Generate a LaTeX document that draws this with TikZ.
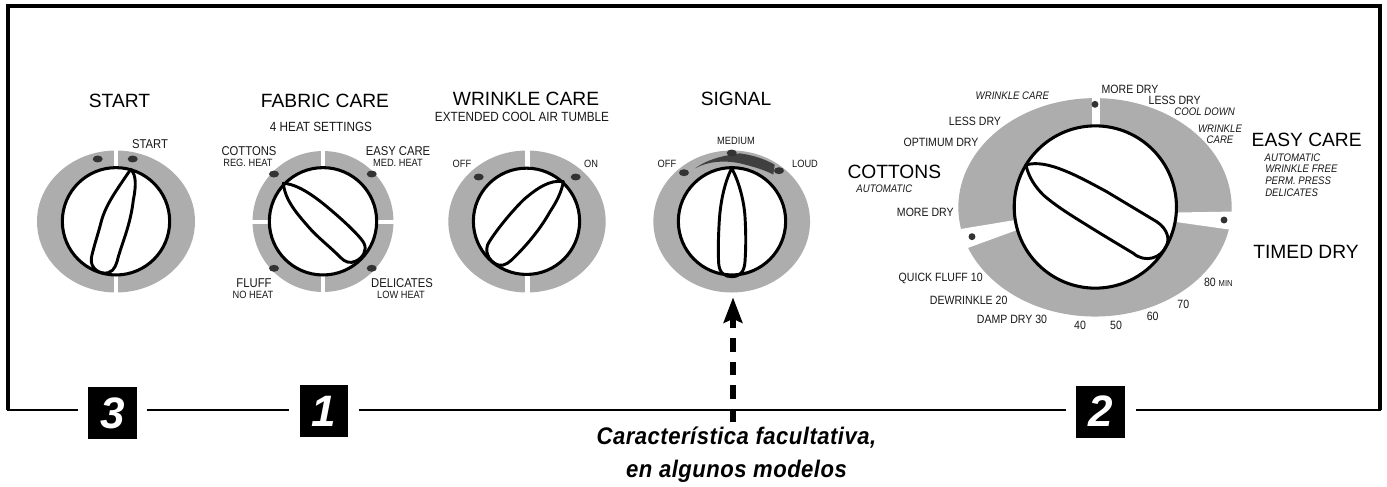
\documentclass[tikz,border=0pt]{standalone}
\usepackage{fontspec}
\setmainfont{Liberation Sans}
\newfontfamily\nar[FakeStretch=0.88]{Liberation Sans}
\newfontfamily\capf[FakeStretch=0.92,LetterSpace=2]{Liberation Sans}
\usetikzlibrary{shapes.geometric,arrows.meta}
\definecolor{halft}{gray}{0.68}
\definecolor{dotc}{gray}{0.2}
\tikzset{
 ring/.style={ellipse,fill=halft,inner sep=0,outer sep=0},
 knob/.style={circle,draw=black,line width=2.3pt,fill=white,inner sep=0,outer sep=0},
 ptr/.style={draw=black,line width=2.2pt,line join=round},
 gapw/.style={fill=white,draw=none},
 hole/.style={ellipse,fill=dotc,inner sep=0,minimum width=7.5pt,minimum height=5.2pt},
 bighole/.style={circle,fill=dotc,inner sep=0,minimum size=5.2pt},
 title/.style={inner sep=0,font=\fontsize{14.4}{15}\selectfont},
 lab/.style={inner sep=0,font=\nar\fontsize{9.6}{10}\selectfont,text=black!90},
 sublabel/.style={inner sep=0,font=\nar\fontsize{10}{11}\selectfont,text=black!90},
 sublab/.style={inner sep=0,font=\nar\fontsize{7.9}{9}\selectfont,text=black!90},
 biglab/.style={inner sep=0,font=\nar\fontsize{9}{10}\selectfont,text=black!90},
 itlab/.style={inner sep=0,font=\nar\itshape\fontsize{8.2}{9}\selectfont,text=black!90},
 badge/.style={fill=black,text=white,inner sep=0,minimum width=36.5pt,minimum height=39pt,font=\bfseries\itshape\fontsize{33}{33}\selectfont},
 frameU/.style={draw=black,line width=2.4pt,line join=miter},
 frameB/.style={draw=black,line width=1.8pt,shorten <=7.5pt,shorten >=7.5pt},
}
\begin{document}
\begin{tikzpicture}[x=0.75pt,y=-0.75pt]
\useasboundingbox (0,0) rectangle (1387,486);
\fill[white] (0,0) rectangle (1387,486);

% frame and badges
\coordinate (fbl) at (8,410);
\coordinate (ftl) at (8,6);
\coordinate (ftr) at (1380,6);
\coordinate (fbr) at (1380,410);
\node[badge] (b3) at (112.5,413) {3};
\node[badge] (b1) at (324,411) {1};
\node[badge] (b2) at (1100.5,411.5) {2};
\draw[frameU] (fbl) -- (ftl) -- (ftr) -- (fbr);
\draw[draw=black,line width=1.8pt,shorten >=7.5pt] (7,410) -- (b3.west |- fbl);
\draw[frameB] (b3.east |- fbl) -- (b1.west |- fbl);
\draw[frameB] (b1.east |- fbl) -- (b2.west |- fbl);
\draw[draw=black,line width=1.8pt,shorten <=8.5pt] (b2.east |- fbl) -- (1381,410);

% START dial
\node[ring,minimum width=118.5pt,minimum height=106.5pt] (r1) at (116,221.5) {};
\fill[gapw] (113.7,140) rectangle (118.2,300);
\node[hole] (h11) at (97.7,159) {};
\node[hole] (h12) at (132.7,159) {};
\node[knob,minimum size=80.5pt] (k1) at (116,221.3) {};
\begin{scope}[shift={(0,60)},scale=1/3]
\draw[ptr] (392,328) .. controls (350,390) and (320,430) .. (305,480) .. controls (295,520) and (278,570) .. (274,595) .. controls (270,625) and (300,645) .. (325,638) .. controls (345,632) and (350,610) .. (355,590) .. controls (370,540) and (392,490) .. (400,420) .. controls (408,380) and (410,345) .. (392,328) -- cycle;
\end{scope}
\node[title] (t1) at (119.5,100.7) {START};
\node[lab] (l1) at (150,144) {START};

% FABRIC CARE dial
\node[ring,minimum width=105.7pt,minimum height=105.7pt] (r2) at (323,221.5) {};
\fill[gapw] (321,140) rectangle (325.2,300);
\fill[gapw] (245,219.7) rectangle (400,224);
\node[hole] (h21) at (274,174) {};
\node[hole] (h22) at (371.7,174) {};
\node[hole] (h23) at (274,268.3) {};
\node[hole] (h24) at (371.7,268.3) {};
\node[knob,minimum size=80.5pt] (k2) at (323,221.3) {};
\begin{scope}[shift={(0,60)},scale=1/3]
\draw[ptr] (850,370) .. controls (905,372) and (975,435) .. (1010,465) .. controls (1050,500) and (1085,535) .. (1092,550) .. controls (1102,570) and (1090,592) .. (1068,603) .. controls (1050,612) and (1035,606) .. (1022,593) .. controls (990,560) and (950,530) .. (925,500) .. controls (890,460) and (855,420) .. (850,370) -- cycle;
\end{scope}
\node[title] (t2) at (325,100.7) {FABRIC CARE};
\node[sublabel] (t2b) at (321,127) {4 HEAT SETTINGS};
\node[lab] (l21) at (249,151) {COTTONS};
\node[sublab] (l22) at (248,163) {REG. HEAT};
\node[lab] (l23) at (398,151) {EASY CARE};
\node[sublab] (l24) at (398,163) {MED. HEAT};
\node[lab] (l25) at (254,283) {FLUFF};
\node[sublab] (l26) at (253,295) {NO HEAT};
\node[lab] (l27) at (402,283) {DELICATES};
\node[sublab] (l28) at (401,295) {LOW HEAT};

% WRINKLE CARE dial
\node[ring,minimum width=118pt,minimum height=106.5pt] (r3) at (527,221.5) {};
\fill[gapw] (525,140) rectangle (529.5,300);
\node[hole] (h31) at (478.7,177) {};
\node[hole] (h32) at (575.7,177) {};
\node[knob,minimum size=79.7pt] (k3) at (526.5,221.3) {};
\begin{scope}[shift={(430,60)},scale=1/3]
\draw[ptr] (400,365) .. controls (360,358) and (320,385) .. (280,420) .. controls (240,460) and (200,510) .. (178,545) .. controls (160,570) and (175,605) .. (205,615) .. controls (225,620) and (240,605) .. (255,590) .. controls (300,545) and (335,500) .. (360,455) .. controls (380,425) and (395,395) .. (400,365) -- cycle;
\end{scope}
\node[title] (t3) at (526,99) {WRINKLE CARE};
\node[sublabel] (t3b) at (522,117) {EXTENDED COOL AIR TUMBLE};
\node[sublab] (l31) at (462,164) {OFF};
\node[sublab] (l32) at (591,164) {ON};

% SIGNAL dial
\node[ring,minimum width=117.5pt,minimum height=106.5pt] (r4) at (731.7,221.5) {};
\begin{scope}[shift={(640,140)},scale=1/3]
\fill[black!75] (165,85) .. controls (200,60) and (240,48) .. (300,40) .. controls (340,46) and (372,56) .. (404,74) -- (400,104) .. controls (375,90) and (340,80) .. (300,70) .. controls (250,60) and (205,64) .. (165,85) -- cycle;
\end{scope}
\node[hole] (h41) at (684,172.7) {};
\node[hole] (h42) at (731.7,153) {};
\node[hole] (h43) at (779,170.7) {};
\node[knob,minimum size=80.5pt] (k4) at (732,221.3) {};
\begin{scope}[shift={(430,60)},scale=1/3]
\draw[ptr] (905,325) .. controls (885,365) and (872,420) .. (868,480) .. controls (865,530) and (864,570) .. (866,610) .. controls (868,640) and (885,650) .. (905,650) .. controls (930,650) and (943,635) .. (945,605) .. controls (948,560) and (948,520) .. (945,470) .. controls (942,420) and (925,360) .. (905,325) -- cycle;
\end{scope}
\node[title] (t4) at (736,99) {SIGNAL};
\node[sublab] (l41) at (667,164) {OFF};
\node[sublab] (l42) at (736,141) {MEDIUM};
\node[sublab] (l43) at (805,164) {LOUD};

% arrow and caption
\coordinate (afoot) at (733,422);
\draw[line width=3.8pt,draw=black,dash pattern=on 10pt off 7.6pt,shorten >=3.7pt,-{Stealth[length=19pt,width=14pt,inset=3pt]}] (afoot) -- (afoot |- r4.south);
\node[inner sep=0,align=center,font=\capf\bfseries\itshape\fontsize{18}{24.75}\selectfont] (cap) at (736.5,455) {Característica facultativa,\\en algunos modelos};

% big dial
\begin{scope}[shift={(880,70)},scale=1/3]
\node[ring,minimum width=205pt,minimum height=163.8pt] (r5) at (645,412) {};
\fill[gapw] (635,60) rectangle (660,200);
\fill[gapw] (860,428) -- (1100,424) -- (1100,486) -- (860,452) -- cycle;
\fill[gapw] (430,446) -- (200,484) -- (200,557) -- (430,473) -- cycle;
\node[bighole] (h51) at (645,103) {};
\node[bighole] (h52) at (1032,450) {};
\node[bighole] (h53) at (276,500) {};
\node[knob,minimum size=121.7pt] (k5) at (646,411) {};
\draw[ptr] (438,285) .. controls (500,265) and (600,322) .. (680,365) .. controls (730,395) and (780,425) .. (830,455) .. controls (865,478) and (868,510) .. (860,525) .. controls (845,565) and (795,580) .. (760,550) .. controls (710,520) and (660,490) .. (620,465) .. controls (580,440) and (530,410) .. (490,375) .. controls (465,350) and (445,320) .. (438,285) -- cycle;
\node[biglab] (m1) at (750,58) {MORE DRY};
\node[biglab] (m2) at (884,90) {LESS DRY};
\node[itlab] (m3) at (974,124) {COOL DOWN};
\node[itlab] (m4) at (1020,175) {WRINKLE};
\node[itlab] (m5) at (1020,208) {CARE};
\node[title] (m6) at (1280,210) {EASY CARE};
\node[itlab,anchor=west] (m7) at (1153,262) {AUTOMATIC};
\node[itlab,anchor=west] (m8) at (1155,297) {WRINKLE FREE};
\node[itlab,anchor=west] (m9) at (1155,332) {PERM. PRESS};
\node[itlab,anchor=west] (m10) at (1155,367) {DELICATES};
\node[title] (m11) at (1278,546) {TIMED DRY};
\node[biglab] (m12) at (1015,637) {80 {\fontsize{6.5}{7}\selectfont MIN}};
\node[biglab] (m13) at (910,702) {70};
\node[biglab] (m14) at (818,740) {60};
\node[biglab] (m15) at (708,765) {50};
\node[biglab] (m16) at (600,767) {40};
\node[biglab] (m17) at (396,748) {DAMP DRY 30};
\node[biglab] (m18) at (266,690) {DEWRINKLE 20};
\node[biglab] (m19) at (182,625) {QUICK FLUFF 10};
\node[biglab] (m20) at (136,427) {MORE DRY};
\node[biglab] (m21) at (183,218) {OPTIMUM DRY};
\node[biglab] (m22) at (285,153) {LESS DRY};
\node[itlab] (m23) at (397,77) {WRINKLE CARE};
\end{scope}
\node[title] (c1) at (894.3,172.3) {COTTONS};
\node[itlab] (c2) at (884.3,189) {AUTOMATIC};
\end{tikzpicture}
\end{document}
